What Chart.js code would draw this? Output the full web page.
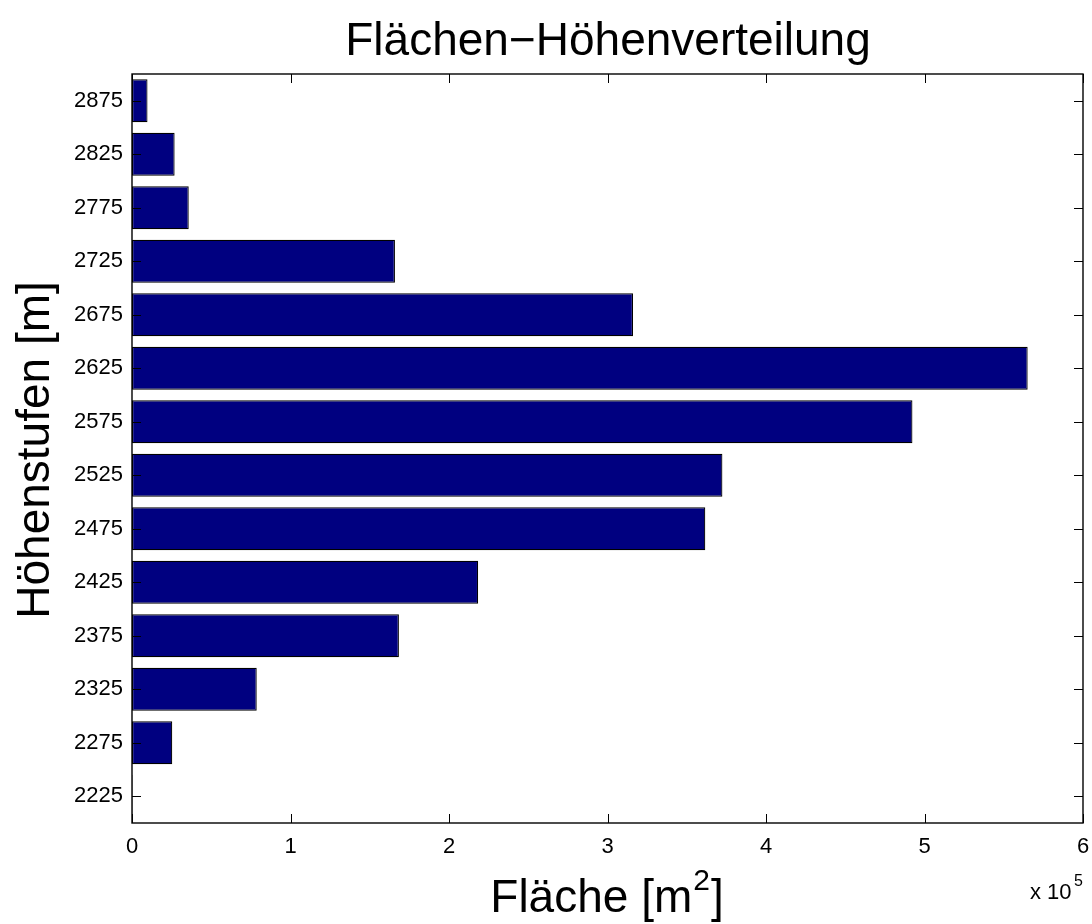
<!DOCTYPE html>
<html lang="de">
<head>
    <meta charset="UTF-8">
    <title>Flächen-Höhenverteilung</title>
    <style>
        html, body { margin: 0; padding: 0; background: #fff; }
        #wrap { width: 1092px; height: 924px; }
    </style>
</head>
<body>
    <div id="wrap"><canvas id="grafico" width="1092" height="924"></canvas></div>

    <script src="https://cdn.jsdelivr.net/npm/chart.js"></script>
    <script>
        // Höhenstufen (Mitte der 50-m-Klassen), von unten nach oben
        const hoehenstufen = ['2225', '2275', '2325', '2375', '2425', '2475', '2525',
                              '2575', '2625', '2675', '2725', '2775', '2825', '2875'];
        // Fläche je Höhenstufe in m²
        const flaeche = [300, 25400, 78700, 168400, 218400, 361700, 372500,
                         492400, 565100, 316100, 165900, 35800, 26900, 9800];
        const xMin = 0, xMax = 600000, xStep = 100000;

        const FONT = 'Liberation Sans, Arial, Helvetica, sans-serif';

        // Rahmen, Ticks innen auf allen vier Seiten, Titel und Achsenbeschriftung
        const matlabStil = {
            id: 'matlabStil',
            afterDraw(chart) {
                const ctx = chart.ctx;
                const a = chart.chartArea;
                const xs = chart.scales.x, ys = chart.scales.y;
                const tl = 9;
                ctx.save();
                ctx.strokeStyle = '#000';
                ctx.lineWidth = 1;
                ctx.beginPath();
                xs.ticks.forEach(t => {
                    const px = Math.round(xs.getPixelForValue(t.value)) + 0.5;
                    ctx.moveTo(px, a.bottom); ctx.lineTo(px, a.bottom - tl);
                    ctx.moveTo(px, a.top); ctx.lineTo(px, a.top + tl);
                });
                ys.ticks.forEach((t, i) => {
                    const py = Math.round(ys.getPixelForTick(i)) + 0.5;
                    ctx.moveTo(a.left, py); ctx.lineTo(a.left + tl, py);
                    ctx.moveTo(a.right, py); ctx.lineTo(a.right - tl, py);
                });
                ctx.stroke();
                ctx.lineWidth = 1.4;
                ctx.strokeRect(a.left, a.top, a.right - a.left, a.bottom - a.top);

                ctx.fillStyle = '#000';
                // Titel
                ctx.font = '46px ' + FONT;
                ctx.textAlign = 'center';
                ctx.textBaseline = 'alphabetic';
                ctx.fillText('Flächen\u2212Höhenverteilung', 608, 55);

                // x-Achse: Fläche [m²]
                const t1 = 'Fläche [m', t2 = '2', t3 = ']';
                ctx.font = '46px ' + FONT;
                const w1 = ctx.measureText(t1).width, w3 = ctx.measureText(t3).width;
                ctx.font = '30px ' + FONT;
                const w2 = ctx.measureText(t2).width + 2;
                let x0 = 607 - (w1 + w2 + w3) / 2;
                ctx.textAlign = 'left';
                ctx.font = '46px ' + FONT;
                ctx.fillText(t1, x0, 912);
                ctx.font = '30px ' + FONT;
                ctx.fillText(t2, x0 + w1 + 1, 890);
                ctx.font = '46px ' + FONT;
                ctx.fillText(t3, x0 + w1 + w2, 912);

                // Exponent
                ctx.font = '22px ' + FONT;
                ctx.fillText('x 10', 1030, 899);
                ctx.font = '16px ' + FONT;
                ctx.fillText('5', 1074, 886);

                // y-Achse
                ctx.translate(49, 450);
                ctx.rotate(-Math.PI / 2);
                ctx.textAlign = 'center';
                ctx.font = '46px ' + FONT;
                ctx.fillText('Höhenstufen [m]', 0, 0);
                ctx.restore();
            }
        };

        const ctx = document.getElementById('grafico').getContext('2d');
        const grafico = new Chart(ctx, {
            type: 'bar',
            data: {
                labels: hoehenstufen,
                datasets: [{
                    label: 'Fläche',
                    data: flaeche,
                    backgroundColor: '#000080',
                    borderColor: '#000000',
                    borderWidth: 1.2,
                    borderSkipped: false,
                    barPercentage: 0.8,
                    categoryPercentage: 1.0
                }]
            },
            options: {
                indexAxis: 'y',
                responsive: false,
                animation: false,
                layout: { padding: { top: 74, right: 9, left: 0, bottom: 0 } },
                plugins: {
                    legend: { display: false },
                    title: { display: false },
                    tooltip: { enabled: false }
                },
                scales: {
                    x: {
                        type: 'linear',
                        min: xMin,
                        max: xMax,
                        grid: { display: false, drawTicks: false },
                        border: { display: false },
                        ticks: {
                            stepSize: xStep,
                            color: '#000',
                            font: { family: FONT, size: 22 },
                            padding: 11,
                            maxRotation: 0,
                            callback: v => String(v / 100000)
                        },
                        afterFit: s => { s.height = 101; s.paddingLeft = 0; s.paddingRight = 0; }
                    },
                    y: {
                        reverse: true,
                        offset: true,
                        grid: { display: false, drawTicks: false },
                        border: { display: false },
                        ticks: {
                            color: '#000',
                            font: { family: FONT, size: 22 },
                            padding: 9
                        },
                        afterFit: s => { s.width = 132; s.paddingTop = 0; s.paddingBottom = 0; }
                    }
                }
            },
            plugins: [matlabStil]
        });
    </script>
</body>
</html>
